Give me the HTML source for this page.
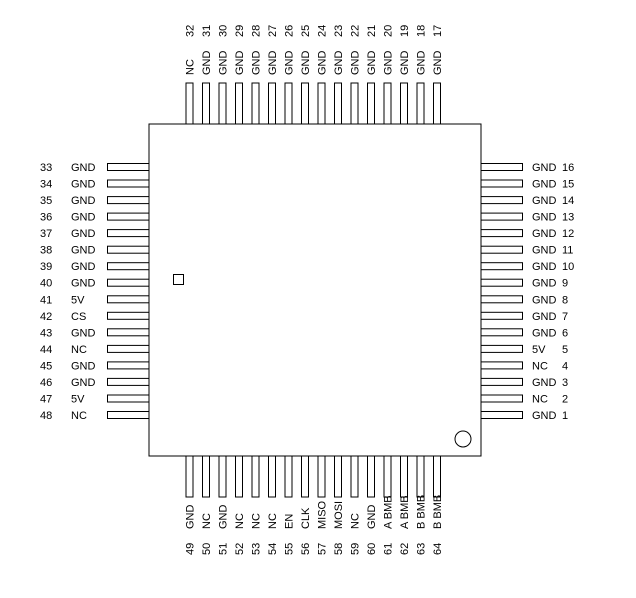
<!DOCTYPE html>
<html><head><meta charset="utf-8"><style>
body{margin:0;background:#fff}
svg{display:block}
text{font-family:"Liberation Sans",Arial,sans-serif;font-size:11px;fill:#000}
rect,circle{fill:#fff;stroke:#000;stroke-width:1}
</style></head><body>
<svg width="636" height="598" viewBox="0 0 636 598" xmlns="http://www.w3.org/2000/svg">
<!-- left pins -->
<g>
<rect x="107.5" y="163.5" width="41.5" height="7"/><text x="40" y="171">33</text><text x="71" y="171">GND</text>
<rect x="107.5" y="180" width="41.5" height="7"/><text x="40" y="187.5">34</text><text x="71" y="187.5">GND</text>
<rect x="107.5" y="196.6" width="41.5" height="7"/><text x="40" y="204.1">35</text><text x="71" y="204.1">GND</text>
<rect x="107.5" y="213.1" width="41.5" height="7"/><text x="40" y="220.6">36</text><text x="71" y="220.6">GND</text>
<rect x="107.5" y="229.6" width="41.5" height="7"/><text x="40" y="237.1">37</text><text x="71" y="237.1">GND</text>
<rect x="107.5" y="246.2" width="41.5" height="7"/><text x="40" y="253.7">38</text><text x="71" y="253.7">GND</text>
<rect x="107.5" y="262.7" width="41.5" height="7"/><text x="40" y="270.2">39</text><text x="71" y="270.2">GND</text>
<rect x="107.5" y="279.2" width="41.5" height="7"/><text x="40" y="286.7">40</text><text x="71" y="286.7">GND</text>
<rect x="107.5" y="295.8" width="41.5" height="7"/><text x="40" y="303.3">41</text><text x="71" y="303.3">5V</text>
<rect x="107.5" y="312.3" width="41.5" height="7"/><text x="40" y="319.8">42</text><text x="71" y="319.8">CS</text>
<rect x="107.5" y="328.8" width="41.5" height="7"/><text x="40" y="336.3">43</text><text x="71" y="336.3">GND</text>
<rect x="107.5" y="345.4" width="41.5" height="7"/><text x="40" y="352.9">44</text><text x="71" y="352.9">NC</text>
<rect x="107.5" y="361.9" width="41.5" height="7"/><text x="40" y="369.4">45</text><text x="71" y="369.4">GND</text>
<rect x="107.5" y="378.4" width="41.5" height="7"/><text x="40" y="385.9">46</text><text x="71" y="385.9">GND</text>
<rect x="107.5" y="395" width="41.5" height="7"/><text x="40" y="402.5">47</text><text x="71" y="402.5">5V</text>
<rect x="107.5" y="411.5" width="41.5" height="7"/><text x="40" y="419">48</text><text x="71" y="419">NC</text>
</g>
<!-- right pins -->
<g>
<rect x="481" y="163.5" width="41.5" height="7"/><text x="532" y="171">GND</text><text x="562" y="171">16</text>
<rect x="481" y="180" width="41.5" height="7"/><text x="532" y="187.5">GND</text><text x="562" y="187.5">15</text>
<rect x="481" y="196.6" width="41.5" height="7"/><text x="532" y="204.1">GND</text><text x="562" y="204.1">14</text>
<rect x="481" y="213.1" width="41.5" height="7"/><text x="532" y="220.6">GND</text><text x="562" y="220.6">13</text>
<rect x="481" y="229.6" width="41.5" height="7"/><text x="532" y="237.1">GND</text><text x="562" y="237.1">12</text>
<rect x="481" y="246.2" width="41.5" height="7"/><text x="532" y="253.7">GND</text><text x="562" y="253.7">11</text>
<rect x="481" y="262.7" width="41.5" height="7"/><text x="532" y="270.2">GND</text><text x="562" y="270.2">10</text>
<rect x="481" y="279.2" width="41.5" height="7"/><text x="532" y="286.7">GND</text><text x="562" y="286.7">9</text>
<rect x="481" y="295.8" width="41.5" height="7"/><text x="532" y="303.3">GND</text><text x="562" y="303.3">8</text>
<rect x="481" y="312.3" width="41.5" height="7"/><text x="532" y="319.8">GND</text><text x="562" y="319.8">7</text>
<rect x="481" y="328.8" width="41.5" height="7"/><text x="532" y="336.3">GND</text><text x="562" y="336.3">6</text>
<rect x="481" y="345.4" width="41.5" height="7"/><text x="532" y="352.9">5V</text><text x="562" y="352.9">5</text>
<rect x="481" y="361.9" width="41.5" height="7"/><text x="532" y="369.4">NC</text><text x="562" y="369.4">4</text>
<rect x="481" y="378.4" width="41.5" height="7"/><text x="532" y="385.9">GND</text><text x="562" y="385.9">3</text>
<rect x="481" y="395" width="41.5" height="7"/><text x="532" y="402.5">NC</text><text x="562" y="402.5">2</text>
<rect x="481" y="411.5" width="41.5" height="7"/><text x="532" y="419">GND</text><text x="562" y="419">1</text>
</g>
<!-- top pins -->
<g>
<rect x="186" y="83" width="7" height="41"/><text transform="translate(193.5,75) rotate(-90)">NC</text><text transform="translate(193.5,37) rotate(-90)">32</text>
<rect x="202.5" y="83" width="7" height="41"/><text transform="translate(210,75) rotate(-90)">GND</text><text transform="translate(210,37) rotate(-90)">31</text>
<rect x="219" y="83" width="7" height="41"/><text transform="translate(226.5,75) rotate(-90)">GND</text><text transform="translate(226.5,37) rotate(-90)">30</text>
<rect x="235.5" y="83" width="7" height="41"/><text transform="translate(243,75) rotate(-90)">GND</text><text transform="translate(243,37) rotate(-90)">29</text>
<rect x="252" y="83" width="7" height="41"/><text transform="translate(259.5,75) rotate(-90)">GND</text><text transform="translate(259.5,37) rotate(-90)">28</text>
<rect x="268.5" y="83" width="7" height="41"/><text transform="translate(276,75) rotate(-90)">GND</text><text transform="translate(276,37) rotate(-90)">27</text>
<rect x="285" y="83" width="7" height="41"/><text transform="translate(292.5,75) rotate(-90)">GND</text><text transform="translate(292.5,37) rotate(-90)">26</text>
<rect x="301.5" y="83" width="7" height="41"/><text transform="translate(309,75) rotate(-90)">GND</text><text transform="translate(309,37) rotate(-90)">25</text>
<rect x="318" y="83" width="7" height="41"/><text transform="translate(325.5,75) rotate(-90)">GND</text><text transform="translate(325.5,37) rotate(-90)">24</text>
<rect x="334.5" y="83" width="7" height="41"/><text transform="translate(342,75) rotate(-90)">GND</text><text transform="translate(342,37) rotate(-90)">23</text>
<rect x="351" y="83" width="7" height="41"/><text transform="translate(358.5,75) rotate(-90)">GND</text><text transform="translate(358.5,37) rotate(-90)">22</text>
<rect x="367.5" y="83" width="7" height="41"/><text transform="translate(375,75) rotate(-90)">GND</text><text transform="translate(375,37) rotate(-90)">21</text>
<rect x="384" y="83" width="7" height="41"/><text transform="translate(391.5,75) rotate(-90)">GND</text><text transform="translate(391.5,37) rotate(-90)">20</text>
<rect x="400.5" y="83" width="7" height="41"/><text transform="translate(408,75) rotate(-90)">GND</text><text transform="translate(408,37) rotate(-90)">19</text>
<rect x="417" y="83" width="7" height="41"/><text transform="translate(424.5,75) rotate(-90)">GND</text><text transform="translate(424.5,37) rotate(-90)">18</text>
<rect x="433.5" y="83" width="7" height="41"/><text transform="translate(441,75) rotate(-90)">GND</text><text transform="translate(441,37) rotate(-90)">17</text>
</g>
<!-- body -->
<rect x="149" y="124" width="332" height="332"/>
<rect x="173.5" y="274.5" width="10" height="10"/>
<circle cx="463" cy="439" r="8"/>
<!-- bottom pins -->
<g>
<rect x="186" y="456" width="7" height="41"/><text transform="translate(193.5,529) rotate(-90)">GND</text><text transform="translate(193.5,555) rotate(-90)">49</text>
<rect x="202.5" y="456" width="7" height="41"/><text transform="translate(210,529) rotate(-90)">NC</text><text transform="translate(210,555) rotate(-90)">50</text>
<rect x="219" y="456" width="7" height="41"/><text transform="translate(226.5,529) rotate(-90)">GND</text><text transform="translate(226.5,555) rotate(-90)">51</text>
<rect x="235.5" y="456" width="7" height="41"/><text transform="translate(243,529) rotate(-90)">NC</text><text transform="translate(243,555) rotate(-90)">52</text>
<rect x="252" y="456" width="7" height="41"/><text transform="translate(259.5,529) rotate(-90)">NC</text><text transform="translate(259.5,555) rotate(-90)">53</text>
<rect x="268.5" y="456" width="7" height="41"/><text transform="translate(276,529) rotate(-90)">NC</text><text transform="translate(276,555) rotate(-90)">54</text>
<rect x="285" y="456" width="7" height="41"/><text transform="translate(292.5,529) rotate(-90)">EN</text><text transform="translate(292.5,555) rotate(-90)">55</text>
<rect x="301.5" y="456" width="7" height="41"/><text transform="translate(309,529) rotate(-90)">CLK</text><text transform="translate(309,555) rotate(-90)">56</text>
<rect x="318" y="456" width="7" height="41"/><text transform="translate(325.5,529) rotate(-90)">MISO</text><text transform="translate(325.5,555) rotate(-90)">57</text>
<rect x="334.5" y="456" width="7" height="41"/><text transform="translate(342,529) rotate(-90)">MOSI</text><text transform="translate(342,555) rotate(-90)">58</text>
<rect x="351" y="456" width="7" height="41"/><text transform="translate(358.5,529) rotate(-90)">NC</text><text transform="translate(358.5,555) rotate(-90)">59</text>
<rect x="367.5" y="456" width="7" height="41"/><text transform="translate(375,529) rotate(-90)">GND</text><text transform="translate(375,555) rotate(-90)">60</text>
<rect x="384" y="456" width="7" height="41"/><text transform="translate(391.5,529) rotate(-90)">A BMB</text><text transform="translate(391.5,555) rotate(-90)">61</text>
<rect x="400.5" y="456" width="7" height="41"/><text transform="translate(408,529) rotate(-90)">A BMB</text><text transform="translate(408,555) rotate(-90)">62</text>
<rect x="417" y="456" width="7" height="41"/><text transform="translate(424.5,529) rotate(-90)">B BMB</text><text transform="translate(424.5,555) rotate(-90)">63</text>
<rect x="433.5" y="456" width="7" height="41"/><text transform="translate(441,529) rotate(-90)">B BMB</text><text transform="translate(441,555) rotate(-90)">64</text>
</g>
</svg>
</body></html>
